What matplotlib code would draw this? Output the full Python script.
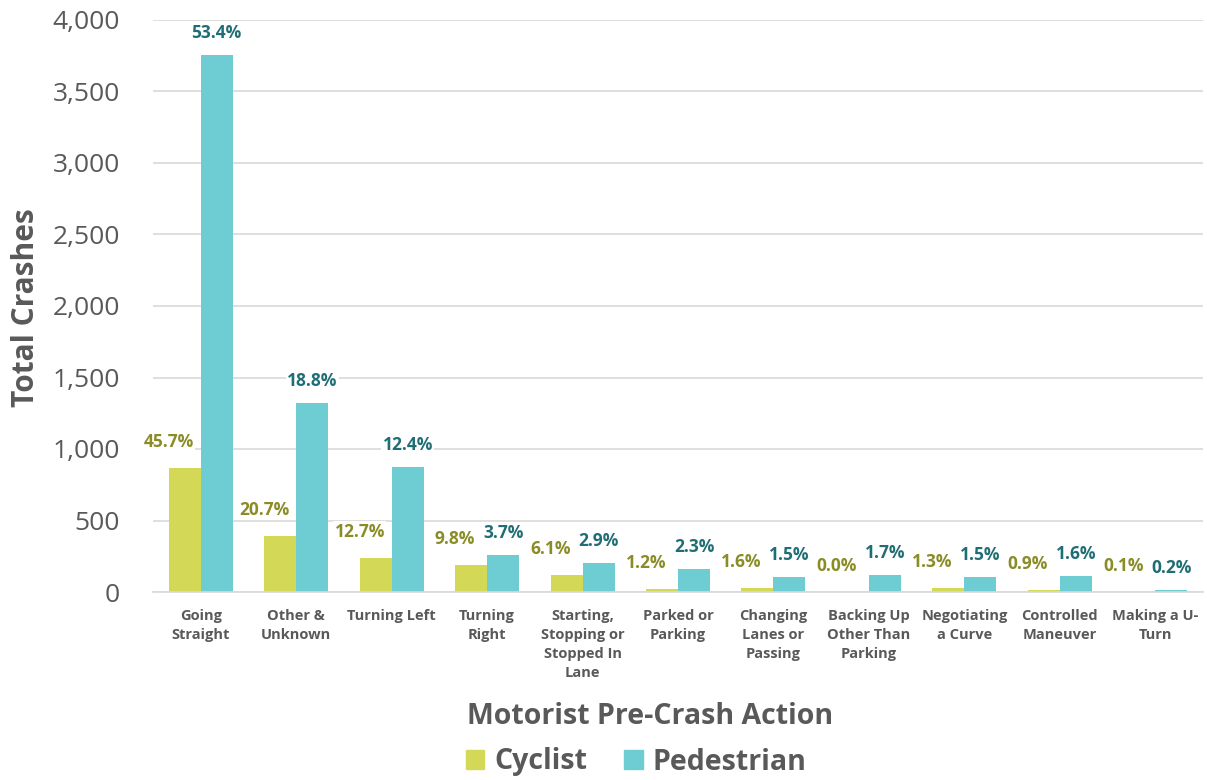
import numpy as np
import matplotlib.pyplot as plt
from matplotlib.patches import Patch

plt.rcParams['font.family'] = ['Open Sans', 'DejaVu Sans']

# Datos
categorias = ['Going\nStraight', 'Other &\nUnknown', 'Turning Left', 'Turning\nRight',
              'Starting,\nStopping or\nStopped In\nLane', 'Parked or\nParking',
              'Changing\nLanes or\nPassing', 'Backing Up\nOther Than\nParking',
              'Negotiating\na Curve', 'Controlled\nManeuver', 'Making a U-\nTurn']
ciclista = [867, 393, 241, 186, 116, 23, 30, 0, 25, 17, 2]
peaton = [3754, 1322, 872, 260, 204, 162, 105, 120, 105, 112, 14]
pct_ciclista = ['45.7%', '20.7%', '12.7%', '9.8%', '6.1%', '1.2%', '1.6%', '0.0%', '1.3%', '0.9%', '0.1%']
pct_peaton = ['53.4%', '18.8%', '12.4%', '3.7%', '2.9%', '2.3%', '1.5%', '1.7%', '1.5%', '1.6%', '0.2%']

col_cic = '#D4D857'
col_pea = '#6ECCD3'
txt_cic = '#8A8C26'
txt_pea = '#206E75'
gris = '#595959'

fig = plt.figure(figsize=(12.07, 7.8), dpi=100)
ax = fig.add_axes([153 / 1207, 1 - 592 / 780, 1050 / 1207, 572 / 780])

x = np.arange(len(categorias))
w = 0.335
ax.bar(x - w / 2, ciclista, w, color=col_cic, zorder=2)
ax.bar(x + w / 2, peaton, w, color=col_pea, zorder=2)

# Etiquetas de porcentaje
for i in range(len(x)):
    ax.annotate(pct_ciclista[i], (x[i] - w / 2, ciclista[i]), xytext=(-16, 26),
                textcoords='offset pixels', ha='center', va='center',
                fontsize=12.5, fontweight='bold', color=txt_cic, zorder=3,
                bbox=dict(facecolor='white', edgecolor='none', pad=1))
    ax.annotate(pct_peaton[i], (x[i] + w / 2, peaton[i]), xytext=(0, 22),
                textcoords='offset pixels', ha='center', va='center',
                fontsize=12.5, fontweight='bold', color=txt_pea, zorder=3,
                bbox=dict(facecolor='white', edgecolor='none', pad=1))

ax.set_xlim(-0.5, len(x) - 0.5)
ax.set_ylim(0, 4000)
ax.set_yticks(range(0, 4001, 500))
ax.set_yticklabels([f'{v:,}' for v in range(0, 4001, 500)], fontsize=19, color=gris)
ax.set_xticks(x)
ax.set_xticklabels(categorias, fontsize=10.5, fontweight='bold', color=gris, va='top',
                   linespacing=1.45)
ax.tick_params(axis='both', length=0)
ax.tick_params(axis='x', pad=12)
ax.tick_params(axis='y', pad=24)
ax.grid(axis='y', color='#D9D9D9', linewidth=1.2, zorder=0)
for s in ['top', 'right', 'left']:
    ax.spines[s].set_visible(False)
ax.spines['bottom'].set_color('#D9D9D9')
ax.spines['bottom'].set_linewidth(1.2)

fig.text(26 / 1207, 1 - 308 / 780, 'Total Crashes', rotation=90, ha='center', va='center',
         fontsize=21.5, fontweight='bold', color=gris)
fig.text(650 / 1207, 1 - 716 / 780, 'Motorist Pre-Crash Action', ha='center', va='center',
         fontsize=20.5, fontweight='bold', color=gris)

handles = [Patch(color=col_cic, label='Cyclist'), Patch(color=col_pea, label='Pedestrian')]
fig.legend(handles=handles, loc='center', bbox_to_anchor=(636 / 1207, 1 - 762 / 780), ncol=2,
           frameon=False, prop={'size': 20.5, 'weight': 'bold'}, labelcolor=gris,
           handlelength=0.65, handleheight=0.65, handletextpad=0.35, columnspacing=1.3)

plt.savefig('out.png', dpi=100)
plt.close()
